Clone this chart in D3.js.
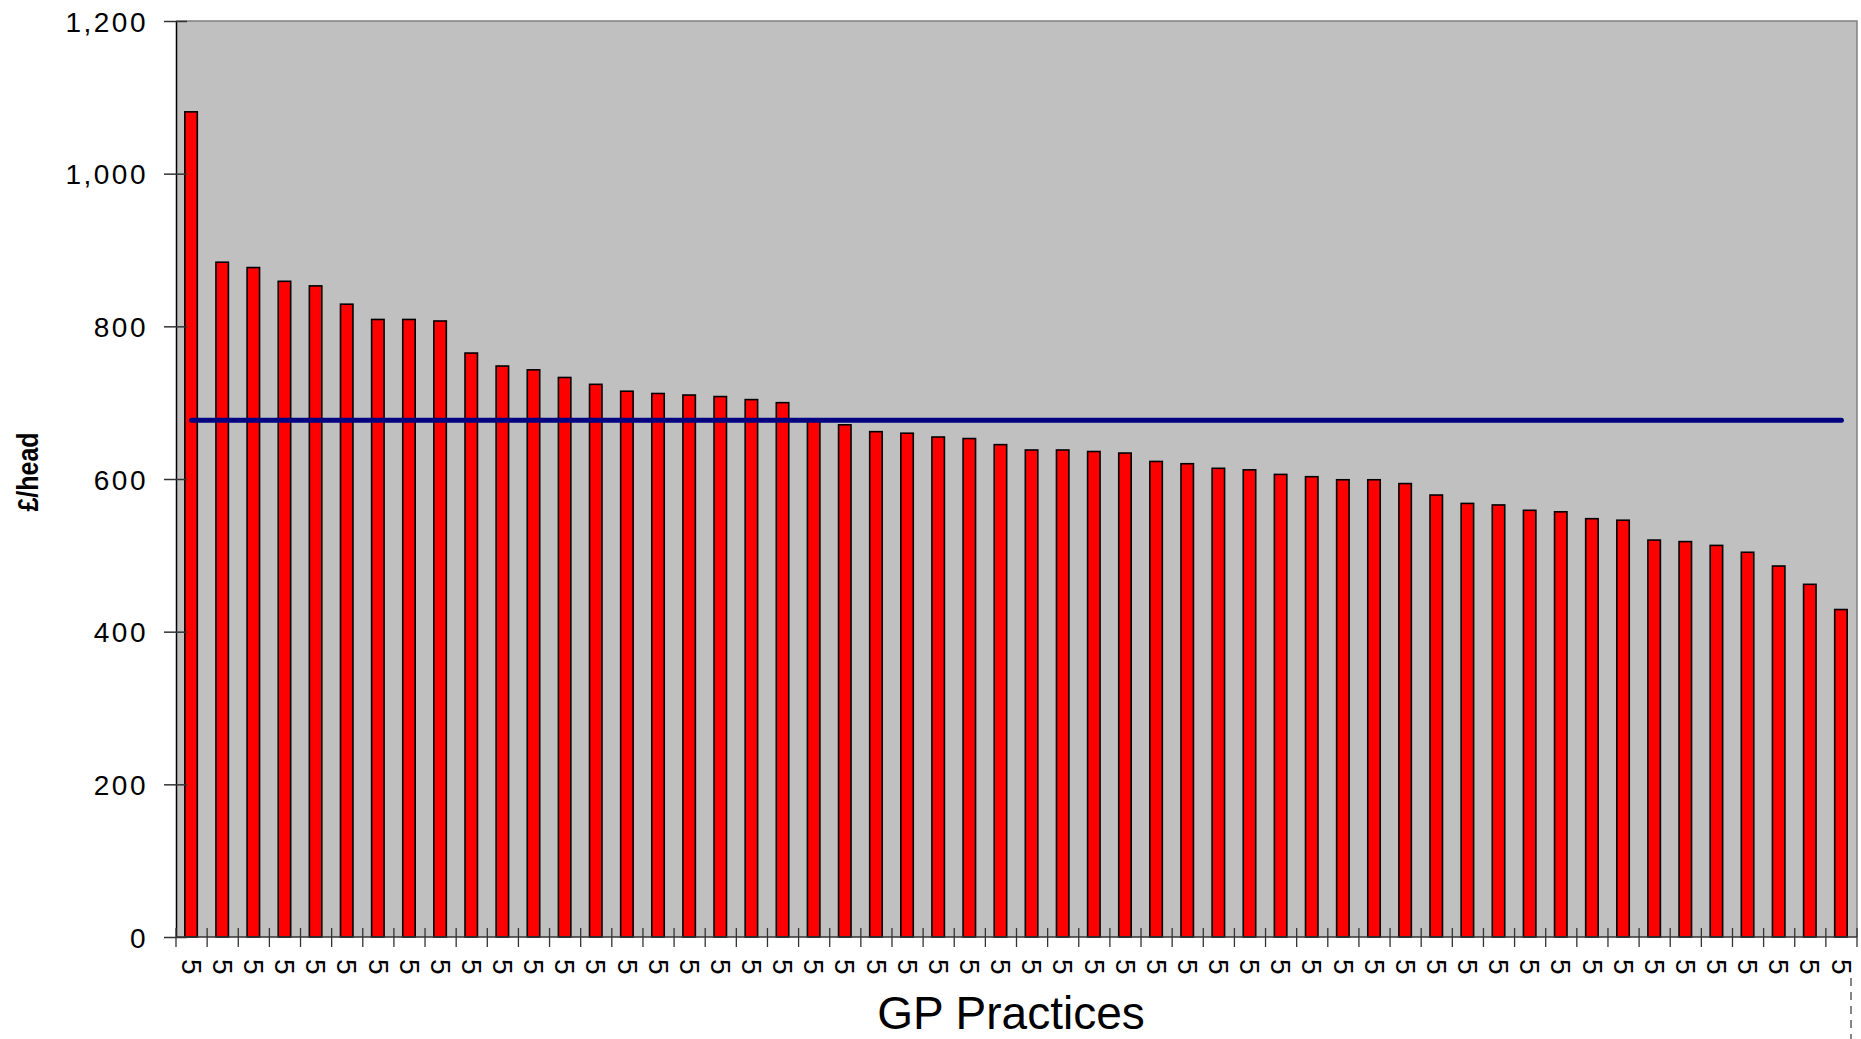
<!DOCTYPE html>
<html>
<head>
<meta charset="utf-8">
<script src="https://cdn.jsdelivr.net/npm/d3@7"></script>
<style>
  html, body { margin: 0; padding: 0; background: #ffffff; }
  svg { display: block; }
  text { font-family: "Liberation Sans", Arial, Helvetica, sans-serif; fill: #000; }
</style>
</head>
<body>
<svg id="chart" width="1861" height="1039"></svg>
<script>
// Practice labels along the x axis
const practiceLabels = [
  "5","5","5","5","5","5","5","5","5","5","5","5","5","5","5","5","5","5",
  "5","5","5","5","5","5","5","5","5","5","5","5","5","5","5","5","5","5",
  "5","5","5","5","5","5","5","5","5","5","5","5","5","5","5","5","5","5"
];

// Spend per head (£) for each practice, sorted high to low
const spendPerHead = [
  1081, 884, 877, 859, 853, 829, 809, 809, 807, 765,
  748, 743, 733, 724, 715, 712, 710, 708, 704, 700,
  678, 671, 662, 660, 655, 653, 645, 638, 638, 636,
  634, 623, 620, 614, 612, 606, 603, 599, 599, 594,
  579, 568, 566, 559, 557, 548, 546, 520, 518, 513,
  504, 486, 462, 429
];

// Overall average £/head drawn as a reference line
const averageSpend = 677;

// Value axis ticks
const yTickValues = [0, 200, 400, 600, 800, 1000, 1200];

const svg = d3.select("#chart");

const plot = { left: 176, right: 1857, top: 21, bottom: 937 };

const x = d3.scaleBand()
  .domain(d3.range(spendPerHead.length))
  .range([plot.left, plot.right])
  .paddingInner(0)
  .paddingOuter(0);

const y = d3.scaleLinear()
  .domain([0, 1200])
  .range([plot.bottom, plot.top]);

// Plot area background
svg.append("rect")
  .attr("x", plot.left)
  .attr("y", plot.top)
  .attr("width", plot.right - plot.left)
  .attr("height", plot.bottom - plot.top)
  .attr("fill", "#c0c0c0");

// Top and right frame
svg.append("path")
  .attr("d", `M${plot.left},${plot.top}H${plot.right}V${plot.bottom}`)
  .attr("fill", "none")
  .attr("stroke", "#808080")
  .attr("stroke-width", 1.5);

// Bars
const barW = x.bandwidth() * 0.4;
svg.append("g")
  .selectAll("rect")
  .data(spendPerHead)
  .join("rect")
  .attr("x", (d, i) => x(i) + (x.bandwidth() - barW) / 2 - 0.5)
  .attr("y", d => y(d))
  .attr("width", barW)
  .attr("height", d => y(0) - y(d))
  .attr("fill", "#ff0000")
  .attr("stroke", "#000")
  .attr("stroke-width", 1.6);

// Average line across the practices
const firstIdx = 0, lastIdx = spendPerHead.length - 1;
svg.append("line")
  .attr("x1", x(firstIdx) + x.bandwidth() / 2)
  .attr("x2", x(lastIdx) + x.bandwidth() / 2)
  .attr("y1", y(averageSpend))
  .attr("y2", y(averageSpend))
  .attr("stroke", "#000080")
  .attr("stroke-width", 5)
  .attr("stroke-linecap", "round");

// Y axis
const yAxis = d3.axisLeft(y)
  .tickValues(yTickValues)
  .tickFormat(d3.format(","))
  .tickSizeInner(12)
  .tickSizeOuter(0)
  .tickPadding(16);

const gy = svg.append("g")
  .attr("transform", `translate(${plot.left},0)`)
  .call(yAxis);
gy.select(".domain").attr("stroke", "#000").attr("stroke-width", 1.5);
gy.selectAll(".tick line")
  .attr("x1", 11)
  .attr("x2", -12)
  .attr("stroke", "#333")
  .attr("stroke-width", 1.5);
gy.selectAll(".tick text")
  .attr("font-size", 28)
  .attr("letter-spacing", "2.5px")
  .attr("font-family", "'Liberation Sans', Arial, sans-serif")
  .attr("dy", "0.36em")
  .attr("x", -28);

// X axis line
svg.append("line")
  .attr("x1", plot.left)
  .attr("x2", plot.right)
  .attr("y1", plot.bottom)
  .attr("y2", plot.bottom)
  .attr("stroke", "#333")
  .attr("stroke-width", 1.5);

// X tick marks at the category boundaries
const boundaries = d3.range(spendPerHead.length + 1)
  .map(i => i < spendPerHead.length ? x(i) : plot.right);
svg.append("g")
  .selectAll("line")
  .data(boundaries)
  .join("line")
  .attr("x1", d => d)
  .attr("x2", d => d)
  .attr("y1", plot.bottom - 9)
  .attr("y2", plot.bottom + 10)
  .attr("stroke", "#333")
  .attr("stroke-width", 1.3);

// Rotated category labels
svg.append("g")
  .selectAll("text")
  .data(practiceLabels)
  .join("text")
  .attr("transform", (d, i) => `translate(${x(i) + x.bandwidth() / 2},959) rotate(90)`)
  .attr("text-anchor", "start")
  .attr("dy", "0.35em")
  .attr("font-size", 28)
  .text(d => d);

// Axis titles
svg.append("text")
  .attr("transform", "translate(27,472) rotate(-90) scale(1,1.2)")
  .attr("text-anchor", "middle")
  .attr("dy", "0.35em")
  .attr("font-size", 25)
  .attr("font-weight", "bold")
  .text("£/head");

svg.append("text")
  .attr("x", 1011)
  .attr("y", 1029)
  .attr("text-anchor", "middle")
  .attr("font-size", 46)
  .text("GP Practices");

// Dashed edge marker below the last category
svg.append("line")
  .attr("x1", 1851)
  .attr("x2", 1851)
  .attr("y1", 978)
  .attr("y2", 1039)
  .attr("stroke", "#444")
  .attr("stroke-width", 1.3)
  .attr("stroke-dasharray", "8,6");
</script>
</body>
</html>
